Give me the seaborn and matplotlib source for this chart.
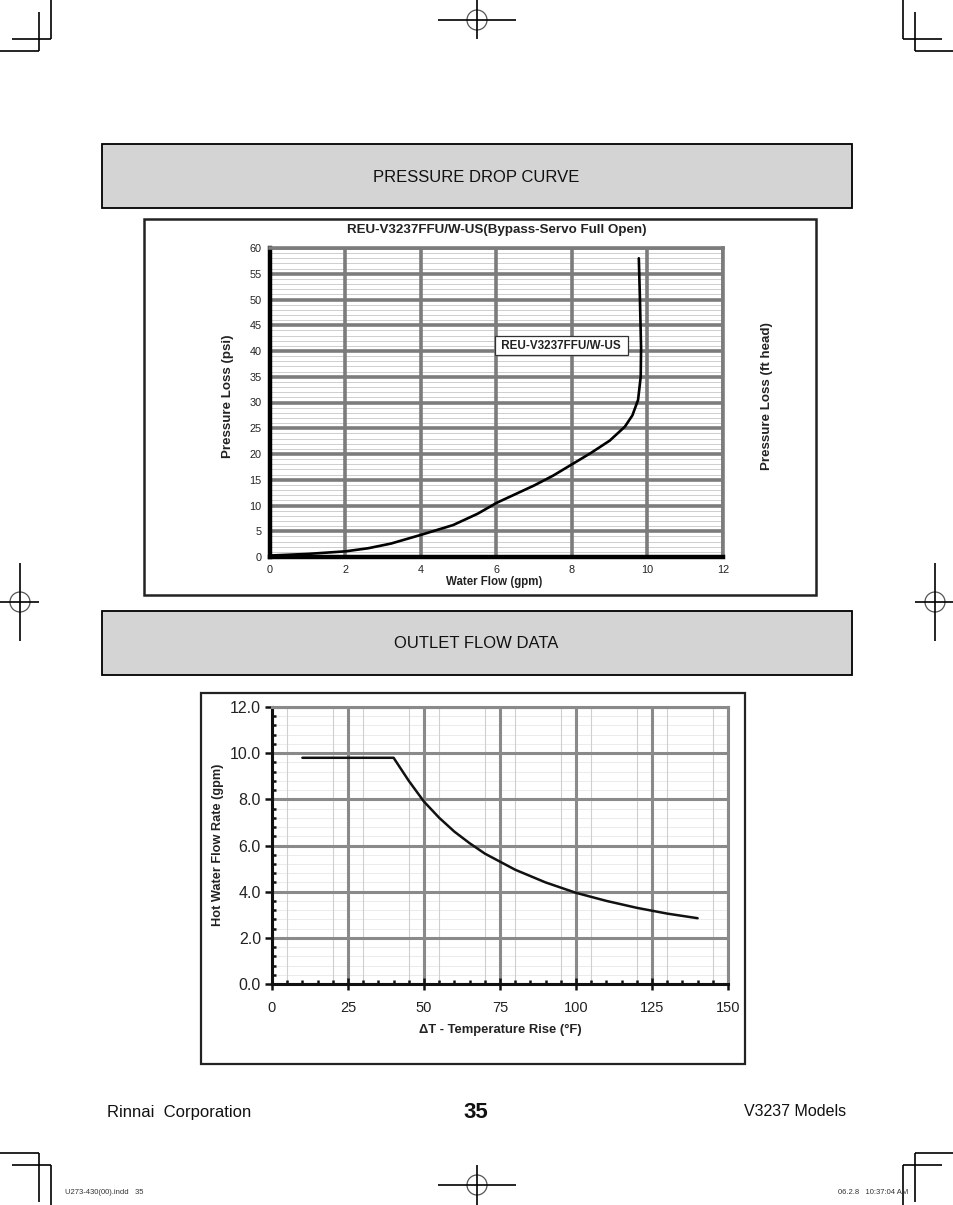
import numpy as np
import pandas as pd
import matplotlib
matplotlib.use('Agg')
import matplotlib.pyplot as plt
import seaborn as sns
from matplotlib.patches import Rectangle, Circle
from matplotlib.ticker import MultipleLocator, FixedLocator, FuncFormatter

# ---------------- data ----------------
flow_gpm = [0.05, 1.0, 2.0, 2.6, 3.2, 4.0, 4.85, 5.5, 6.0, 6.5, 7.0, 7.5, 8.0,
            8.5, 9.0, 9.4, 9.6, 9.75, 9.82, 9.83, 9.8, 9.77]
loss_psi = [0.3, 0.6, 1.1, 1.7, 2.6, 4.3, 6.2, 8.4, 10.5, 12.2, 13.9, 15.8, 18.0,
            20.2, 22.6, 25.3, 27.5, 30.5, 35.0, 40.5, 50.0, 58.0]
temp_rise = [10, 40, 45, 50, 55, 60, 65, 70, 75, 80, 90, 100, 110, 120, 130, 140]
hot_flow = [9.8, 9.8, 8.8, 7.9, 7.2, 6.6, 6.1, 5.65, 5.3, 4.95, 4.4, 3.95, 3.6,
            3.3, 3.05, 2.85]

top_x_ticks = [0, 2, 4, 6, 8, 10, 12]
top_y_ticks = [0, 5, 10, 15, 20, 25, 30, 35, 40, 45, 50, 55, 60]
top_y_light = [v for v in range(1, 60) if v % 5 != 0]
bot_x_ticks = [0, 25, 50, 75, 100, 125, 150]
bot_y_ticks = [0.0, 2.0, 4.0, 6.0, 8.0, 10.0, 12.0]
bot_x_light = [5, 20, 30, 45, 55, 70, 80, 95, 105, 120, 130, 145]
bot_y_light = [0.4, 0.8, 1.2, 1.6, 2.4, 2.8, 3.2, 3.6, 4.4, 4.8, 5.2, 5.6, 6.4, 6.8,
               7.2, 7.6, 8.4, 8.8, 9.2, 9.6, 10.4, 10.8, 11.2, 11.6]

top_title = "REU-V3237FFU/W-US(Bypass-Servo Full Open)"
series_name = "REU-V3237FFU/W-US"

sns.set_style('white')
plt.rcParams['font.family'] = ['Liberation Sans', 'DejaVu Sans']

W, H = 954, 1205
fig = plt.figure(figsize=(9.54, 12.05), dpi=100)
fig.patch.set_facecolor('white')

page = fig.add_axes([0, 0, 1, 1], zorder=0)
page.set_xlim(0, W)
page.set_ylim(H, 0)
page.axis('off')


def fa(x0, y0, x1, y1):
    return [x0 / W, 1 - y1 / H, (x1 - x0) / W, (y1 - y0) / H]


# ---------- page decorations (crop & registration marks) ----------
k = dict(color='black', lw=1.2, solid_capstyle='butt')
page.plot([51, 51], [0, 39], **k); page.plot([12, 51], [39, 39], **k)
page.plot([39, 39], [12, 51], **k); page.plot([0, 39], [51, 51], **k)
page.plot([903, 903], [0, 39], **k); page.plot([903, 942], [39, 39], **k)
page.plot([915, 915], [12, 51], **k); page.plot([915, 954], [51, 51], **k)
page.plot([0, 39], [1153, 1153], **k); page.plot([39, 39], [1153, 1202], **k)
page.plot([12, 51], [1165, 1165], **k); page.plot([51, 51], [1165, 1205], **k)
page.plot([915, 954], [1153, 1153], **k); page.plot([915, 915], [1153, 1202], **k)
page.plot([903, 942], [1165, 1165], **k); page.plot([903, 903], [1165, 1205], **k)
for (cx, cy, hx, vy) in [(477, 20, (438, 516), (0, 39)),
                         (477, 1185, (438, 516), (1165, 1205))]:
    page.plot(list(hx), [cy, cy], **k)
    page.plot([cx, cx], list(vy), **k)
    page.add_patch(Circle((cx, cy), 10, fill=False, ec='#555555', lw=0.9))
for (cx, cy, hx) in [(20, 602, (0, 39)), (935, 602, (915, 954))]:
    page.plot([cx, cx], [563, 641], **k)
    page.plot(list(hx), [cy, cy], **k)
    page.add_patch(Circle((cx, cy), 10, fill=False, ec='#555555', lw=0.9))

# ---------- header boxes ----------
for (y0, label) in [(144, 'PRESSURE DROP CURVE'), (611, 'OUTLET FLOW DATA')]:
    page.add_patch(Rectangle((102, y0), 750, 64, fc='#d4d4d4', ec='black', lw=1.3))
    page.text(476, y0 + 33, label, ha='center', va='center', fontsize=12, color='#111111')

# ---------- chart frames ----------
page.add_patch(Rectangle((144, 219), 672, 376, fc='white', ec='#222222', lw=1.8))
page.add_patch(Rectangle((201, 693), 544, 371, fc='white', ec='#222222', lw=1.6))

# ================= top chart =================
ax1 = fig.add_axes(fa(270, 248, 723, 557), zorder=2)
ax1.set_facecolor('white')
for yv in top_y_light:
    ax1.axhline(yv, color='#c6c6c6', lw=0.6, zorder=0.3)
sns.lineplot(x=flow_gpm, y=loss_psi, sort=False, estimator=None, color='black',
             lw=1.9, ax=ax1, zorder=3)
ax1.set_xlim(0, 12)
ax1.set_ylim(0, 60)
ax1.xaxis.set_major_locator(FixedLocator(top_x_ticks))
ax1.yaxis.set_major_locator(FixedLocator(top_y_ticks))
ax1.grid(which='major', color='#7c7c7c', lw=2.6, zorder=1)
ax1.set_axisbelow(True)
for s in ['left', 'bottom']:
    ax1.spines[s].set_color('black'); ax1.spines[s].set_linewidth(3.2)
for s in ['top', 'right']:
    ax1.spines[s].set_color('#7c7c7c'); ax1.spines[s].set_linewidth(2.6)
ax1.tick_params(axis='both', which='major', direction='out', length=3, width=1.5,
                color='black', labelsize=7.8, labelcolor='#222222', pad=3)
ax1.set_xlabel('')
ax1.set_ylabel('')
ax1.text(7.71, 41.0, ' ' + series_name + ' ', ha='center', va='center', fontsize=8.4,
         fontweight='bold', color='#222222', zorder=5,
         bbox=dict(boxstyle='square,pad=0.3', fc='white', ec='#333333', lw=0.9))

page.text(497, 230, top_title, ha='center', va='center', fontsize=9.6, fontweight='bold',
          color='#222222')
page.text(228, 396, 'Pressure Loss (psi)', rotation=90, ha='center', va='center',
          fontsize=9.6, fontweight='bold', color='#222222')
page.text(767, 396, 'Pressure Loss (ft head)', rotation=90, ha='center', va='center',
          fontsize=9.6, fontweight='bold', color='#222222')
page.text(494, 582, 'Water Flow (gpm)', ha='center', va='center', fontsize=8.3,
          fontweight='bold', color='#222222')

# ================= bottom chart =================
ax2 = fig.add_axes(fa(272, 707, 728, 984), zorder=2)
ax2.set_facecolor('white')
for xv in bot_x_light:
    ax2.axvline(xv, color='#cfcfcf', lw=0.8, zorder=0.4)
for yv in bot_y_light:
    ax2.axhline(yv, color='#e8e8e8', lw=0.6, zorder=0.3)
sns.lineplot(x=temp_rise, y=hot_flow, sort=False, estimator=None, color='#111111',
             lw=1.8, ax=ax2, zorder=3)
ax2.set_xlim(0, 150)
ax2.set_ylim(0, 12)
ax2.xaxis.set_major_locator(FixedLocator(bot_x_ticks))
ax2.yaxis.set_major_locator(FixedLocator(bot_y_ticks))
ax2.xaxis.set_minor_locator(MultipleLocator(5))
ax2.yaxis.set_minor_locator(MultipleLocator(0.4))
ax2.yaxis.set_major_formatter(FuncFormatter(lambda v, p: f'{v:.1f}'))
ax2.grid(which='major', color='#8a8a8a', lw=2.2, zorder=1)
ax2.set_axisbelow(True)
for s in ['left', 'bottom']:
    ax2.spines[s].set_color('#111111'); ax2.spines[s].set_linewidth(2.2)
for s in ['top', 'right']:
    ax2.spines[s].set_color('#8a8a8a'); ax2.spines[s].set_linewidth(2.2)
ax2.tick_params(axis='y', which='major', direction='out', length=5, width=1.8,
                color='#111111', labelsize=11.5, labelcolor='#222222', pad=3)
ax2.tick_params(axis='y', which='minor', direction='in', length=3, width=1.8,
                color='#111111')
ax2.tick_params(axis='x', which='major', direction='inout', length=9, width=1.8,
                color='#111111', labelsize=10.5, labelcolor='#222222', pad=8)
ax2.tick_params(axis='x', which='minor', direction='in', length=3, width=1.8,
                color='#111111')
ax2.xaxis.set_ticks_position('bottom')
ax2.yaxis.set_ticks_position('left')
ax2.set_xlabel('')
ax2.set_ylabel('')

page.text(218, 845, 'Hot Water Flow Rate (gpm)', rotation=90, ha='center', va='center',
          fontsize=9.2, fontweight='bold', color='#222222')
page.text(500, 1030, 'ΔT - Temperature Rise (°F)', ha='center', va='center',
          fontsize=9.4, fontweight='bold', color='#222222')

# ---------- footer ----------
page.text(107, 1113, 'Rinnai  Corporation', ha='left', va='center', fontsize=12,
          color='#111111')
page.text(476, 1112, '35', ha='center', va='center', fontsize=16, fontweight='bold',
          family=['Liberation Sans Narrow', 'Liberation Sans', 'DejaVu Sans'],
          color='#111111')
page.text(846, 1111, 'V3237 Models', ha='right', va='center', fontsize=11.5,
          color='#111111')
page.text(65, 1192, 'U273-430(00).indd   35', ha='left', va='center', fontsize=5.5,
          color='#333333')
page.text(908, 1192, '06.2.8   10:37:04 AM', ha='right', va='center', fontsize=5.5,
          color='#333333')

fig.savefig('out.png', dpi=100, facecolor='white')
